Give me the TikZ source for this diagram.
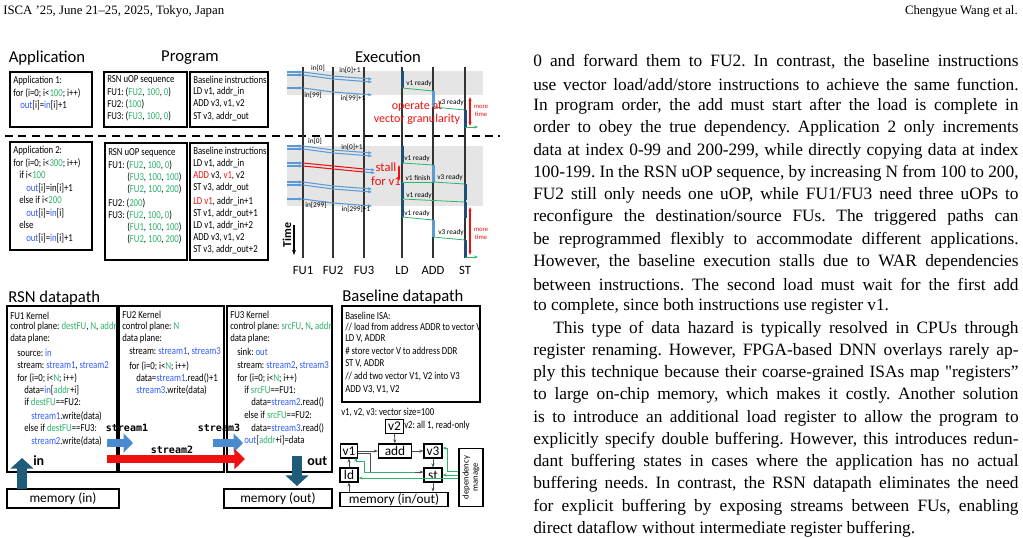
\documentclass[tikz,border=0pt]{standalone}
\usepackage{fontspec}
\setmainfont{Liberation Serif}
\newfontfamily\figfont[FakeStretch=0.82]{Carlito}
\newfontfamily\titfont{Carlito}
\newfontfamily\monob{DejaVu Sans Mono}
\usetikzlibrary{arrows.meta}
\definecolor{grn}{HTML}{2DB36A}
\definecolor{blu}{HTML}{2F5BFF}
\definecolor{rdd}{HTML}{F01010}
\definecolor{dbar}{HTML}{1F4E79}
\definecolor{lbar}{HTML}{5B9BD5}
\definecolor{inarr}{HTML}{1F5C7A}
\definecolor{strarr}{HTML}{4A8BD0}
\definecolor{lnb}{HTML}{5B9BD5}
\newcommand\gn[1]{\textcolor{grn}{#1}}
\newcommand\bl[1]{\textcolor{blu}{#1}}
\newcommand\rd[1]{\textcolor{rdd}{#1}}
\newcommand\tl[3]{\node[anchor=west,inner sep=0,font=\figfont\fontsize{8}{9}\selectfont] at (#1,#2) {#3};}
\newcommand\pl[2]{\node[anchor=west,inner sep=0,font=\fontsize{13}{15}\selectfont] at (533,#1) {\makebox[364pt][s]{#2}};}
\newcommand\pe[3]{\node[anchor=west,inner sep=0,font=\fontsize{13}{15}\selectfont] at (#1,#2) {#3};}
\frenchspacing
\begin{document}
\begin{tikzpicture}[x=0.75pt,y=-0.75pt,
  bx/.style={draw,line width=0.8pt},
  ttl/.style={font=\titfont\fontsize{12.5}{14}\selectfont,inner sep=0},
  lab/.style={font=\titfont\fontsize{9.5}{11}\selectfont,inner sep=0},
  sm/.style={font=\titfont\fontsize{5.5}{6}\selectfont,inner sep=0},
  bar/.style={fill=dbar,draw=none},
  lbarS/.style={fill=lbar,draw=none},
  ga/.style={draw=grn,line width=0.6pt},
  ba/.style={draw=lnb,line width=0.8pt,-{Stealth[length=3pt]}},
  bk/.style={draw=black!70,line width=0.7pt,-{Stealth[length=3pt]}},
  gk/.style={draw=grn,line width=0.6pt,-{Stealth[length=3pt]}},
  blk/.style={-{Triangle[length=8pt,width=17pt]}}]
\useasboundingbox (0,0) rectangle (1023,537);
% header
\node[anchor=west,inner sep=0,font=\fontsize{9.6}{11}\selectfont] (hdl) at (3,11) {ISCA '25, June 21–25, 2025, Tokyo, Japan};
\node[anchor=east,inner sep=0,font=\fontsize{9.6}{11}\selectfont] (hdr) at (1018,11) {Chengyue Wang et al.};
% right column text
\pl{62}{0 and forward them to FU2. In contrast, the baseline instructions}
\pl{84.25}{use vector load/add/store instructions to achieve the same function.}
\pl{106.5}{In program order, the add must start after the load is complete in}
\pl{128.75}{order to obey the true dependency. Application 2 only increments}
\pl{151}{data at index 0-99 and 200-299, while directly copying data at index}
\pl{173.25}{100-199. In the RSN uOP sequence, by increasing N from 100 to 200,}
\pl{195.5}{FU2 still only needs one uOP, while FU1/FU3 need three uOPs to}
\pl{217.75}{reconfigure the destination/source FUs. The triggered paths can}
\pl{240}{be reprogrammed flexibly to accommodate different applications.}
\pl{262.25}{However, the baseline execution stalls due to WAR dependencies}
\pl{284.5}{between instructions. The second load must wait for the first add}
\pe{533}{306.75}{to complete, since both instructions use register v1.}
\node[anchor=west,inner sep=0,font=\fontsize{13}{15}\selectfont] at (553,329) {\makebox[349pt][s]{This type of data hazard is typically resolved in CPUs through}};
\pl{351.25}{register renaming. However, FPGA-based DNN overlays rarely ap-}
\pl{373.5}{ply this technique because their coarse-grained ISAs map \textquotedbl registers”}
\pl{395.75}{to large on-chip memory, which makes it costly. Another solution}
\pl{418}{is to introduce an additional load register to allow the program to}
\pl{440.25}{explicitly specify double buffering. However, this introduces redun-}
\pl{462.5}{dant buffering states in cases where the application has no actual}
\pl{484.75}{buffering needs. In contrast, the RSN datapath eliminates the need}
\pl{507}{for explicit buffering by exposing streams between FUs, enabling}
\pe{533}{529.25}{direct dataflow without intermediate register buffering.}
% ---------- figure titles
\node[ttl] (tapp) at (47,58) {Application};
\node[ttl] (tprog) at (190,58) {Program};
\node[ttl] (texec) at (388,57) {Execution};
% boxes top
\draw[bx] (10,72) rectangle (92,127);
\draw[bx] (104,72) rectangle (187,127);
\draw[bx] (190,72) rectangle (268,127);
\tl{13}{81}{Application 1:}
\tl{13}{93}{for (i=0; i<\gn{100}; i++)}
\tl{20}{105}{\bl{out}[i]=\bl{in}[i]+1}
\tl{107}{80}{RSN uOP sequence}
\tl{107}{92}{FU1: (\gn{FU2}, \gn{100}, \gn{0})}
\tl{107}{104}{FU2: (\gn{100})}
\tl{107}{116}{FU3: (\gn{FU3}, \gn{100}, \gn{0})}
\tl{193}{80}{Baseline instructions}
\tl{193}{92}{LD v1, addr\_in}
\tl{193}{104}{ADD v3, v1, v2}
\tl{193}{117}{ST v3, addr\_out}
% dashed separator
\draw[line width=1.2pt,dash pattern=on 6pt off 4pt] (5,136) -- (500,136);
% boxes bottom
\draw[bx] (10,142) rectangle (92,250);
\draw[bx] (105,143) rectangle (187,260);
\draw[bx] (190,143) rectangle (268,260);
\tl{13}{151}{Application 2:}
\tl{13}{163}{for (i=0; i<\gn{300}; i++)}
\tl{19}{175}{if i<\gn{100}}
\tl{26}{188}{\bl{out}[i]=in[i]+1}
\tl{19}{200}{else if i<\gn{200}}
\tl{26}{213}{\bl{out}[i]=\bl{in}[i]}
\tl{19}{225}{else}
\tl{26}{238}{\bl{out}[i]=\bl{in}[i]+1}
\tl{108}{153}{RSN uOP sequence}
\tl{108}{165}{FU1: (\gn{FU2}, \gn{100}, \gn{0})}
\tl{127}{177}{(\gn{FU3}, \gn{100}, \gn{100})}
\tl{127}{189}{(\gn{FU2}, \gn{100}, \gn{200})}
\tl{108}{203}{FU2: (\gn{200})}
\tl{108}{215}{FU3: (\gn{FU2}, \gn{100}, \gn{0})}
\tl{127}{227}{(\gn{FU1}, \gn{100}, \gn{100})}
\tl{127}{239}{(\gn{FU2}, \gn{100}, \gn{200})}
\tl{193}{151}{Baseline instructions}
\tl{193}{164}{LD v1, addr\_in}
\tl{193}{176}{\rd{ADD} v3, \rd{v1}, v2}
\tl{193}{188}{ST v3, addr\_out}
\tl{193}{202}{\rd{LD v1}, addr\_in+1}
\tl{193}{214}{ST v1, addr\_out+1}
\tl{193}{226}{LD v1, addr\_in+2}
\tl{193}{238}{ADD v3, v1, v2}
\tl{193}{250}{ST v3, addr\_out+2}
% ---------- execution
\fill[black!10] (287,71) rectangle (483,95);
\fill[black!10] (287,146) rectangle (483,206);
\foreach \x/\n in {303/FU1,333/FU2,364/FU3,402/LD,433/ADD,465/ST}{
  \draw[line width=0.8pt,black!80] (\x,67) -- (\x,258);
  \node[lab] (l\n) at (\x,270) {\n};}
% band 1 arrows
\foreach \y in {72,75,88}{
  \draw[ba] (287,\y) -- (303,\y);
  \draw[draw=lnb,line width=0.8pt] (303,\y) -- (333,\y+4);
  \draw[ba] (333,\y+4) -- (372,\y+7);}
\node[sm] at (318,68) {in[0]};
\node[sm] at (350,70) {in[0]+1};
\node[sm] at (313,95) {in[99]};
\node[sm] at (353,98) {in[99]+1};
\fill[bar] (400.5,71) rectangle (403.5,88);
\draw[ga] (402,88) -- (433,91);
\node[sm] at (419,84) {v1 ready};
\fill[lbarS] (431.5,91) rectangle (434.5,107);
\draw[ga] (433,107) -- (465,110);
\node[sm] at (451,103) {v3 ready};
\fill[bar] (463.5,110) rectangle (466.5,127);
\draw[gk] (465,127) -- (478,127);
\draw[rdd,line width=0.8pt,{Stealth[length=3pt]}-{Stealth[length=3pt]}] (470,97) -- (470,126);
\node[sm,text=rdd,align=center,font=\titfont\fontsize{5}{6}\selectfont] at (481,111) {more\\time};
\node[inner sep=0,text=rdd,align=center,font=\titfont\fontsize{9}{9.5}\selectfont] at (417,113) {operate at\\vector granularity};
% band 2 arrows
\foreach \y in {146,149,182,185,199}{
  \draw[ba] (287,\y) -- (303,\y);
  \draw[draw=lnb,line width=0.8pt] (303,\y) -- (333,\y+4);
  \draw[ba] (333,\y+4) -- (372,\y+7);}
\foreach \y in {163,166}{
  \draw[ba] (287,\y) -- (303,\y);
  \draw[draw=rdd,line width=0.8pt] (303,\y) -- (364,\y+6);
  \draw[ba] (364,\y+6) -- (375,\y+7);}
\node[sm] at (315,141) {in[0]};
\node[sm] at (352,147) {in[0]+1};
\node[sm] at (316,205) {in[299]};
\node[sm] at (356,209) {in[299]+1};
\fill[bar] (400.5,146) rectangle (403.5,163);
\fill[bar] (400.5,182) rectangle (403.5,199);
\fill[bar] (400.5,200) rectangle (403.5,217);
\fill[lbarS] (431.5,165) rectangle (434.5,182);
\fill[lbarS] (431.5,220) rectangle (434.5,237);
\fill[bar] (463.5,184) rectangle (466.5,200);
\fill[bar] (463.5,202) rectangle (466.5,218);
\fill[bar] (463.5,240) rectangle (466.5,257);
\draw[ga] (402,163) -- (433,165);
\node[sm] at (417,159) {v1 ready};
\draw[ga] (433,182) -- (402,182);
\node[sm] at (418,178) {v1 finish};
\draw[ga] (433,182) -- (465,184);
\node[sm] at (450,178) {v3 ready};
\draw[ga] (402,199) -- (465,202);
\node[sm] at (419,196) {v1 ready};
\draw[ga] (402,217) -- (433,220);
\node[sm] at (417,214) {v1 ready};
\draw[ga] (433,237) -- (465,240);
\node[sm] at (451,233) {v3 ready};
\draw[gk] (465,257) -- (478,257);
\draw[rdd,line width=0.8pt,{Stealth[length=3pt]}-{Stealth[length=3pt]}] (470,207) -- (470,255);
\node[sm,text=rdd,align=center,font=\titfont\fontsize{5}{6}\selectfont] at (481,234) {more\\time};
\draw[rdd,line width=0.8pt,{Stealth[length=2.5pt]}-{Stealth[length=2.5pt]}] (399,165) -- (399,181);
\node[inner sep=0,text=rdd,align=center,font=\titfont\fontsize{9.5}{10}\selectfont] at (386,174) {stall\\for v1};
\node[inner sep=0,rotate=90,font=\titfont\bfseries\fontsize{9}{10}\selectfont] (time) at (287,235) {Time};
\draw[line width=1pt,-{Stealth[length=4pt]}] (294,225) -- (294,255);
% ---------- RSN datapath
\node[ttl,anchor=west] (trsn) at (8,298) {RSN datapath};
\draw[bx] (7,306) rectangle (117,472);
\draw[bx] (119,306) rectangle (224,472);
\draw[bx] (227,306) rectangle (332,472);
\draw[bx] (7,489) rectangle (119,508);
\draw[bx] (224,489) rectangle (332,508);
\node[lab,font=\titfont\fontsize{10}{11}\selectfont] (memin) at (63,499) {memory (in)};
\node[lab,font=\titfont\fontsize{10}{11}\selectfont] (memout) at (278,499) {memory (out)};
\tl{10}{316}{FU1 Kernel}
\tl{10}{327}{control plane: \gn{destFU}, \gn{N}, \gn{addr}}
\tl{10}{339}{data plane:}
\tl{17}{353}{source: \bl{in}}
\tl{17}{366}{stream: \bl{stream1}, \bl{stream2}}
\tl{17}{378}{for (i=0; i<\gn{N}; i++)}
\tl{24}{390}{data=\bl{in}[\gn{addr}+i]}
\tl{24}{402}{if \gn{destFU}==FU2:}
\tl{31}{416}{\bl{stream1}.write(data)}
\tl{24}{428}{else if \gn{destFU}==FU3:}
\tl{31}{441}{\bl{stream2}.write(data)}
\tl{122}{315}{FU2 Kernel}
\tl{122}{327}{control plane: \gn{N}}
\tl{122}{339}{data plane:}
\tl{129}{352}{stream: \bl{stream1}, \bl{stream3}}
\tl{129}{366}{for (i=0; i<\gn{N}; i++)}
\tl{136}{378}{data=\bl{stream1}.read()+1}
\tl{136}{390}{\bl{stream3}.write(data)}
\tl{230}{315}{FU3 Kernel}
\tl{230}{327}{control plane: \gn{srcFU}, \gn{N}, \gn{addr}}
\tl{230}{339}{data plane:}
\tl{237}{352}{sink: \bl{out}}
\tl{237}{366}{stream: \bl{stream2}, \bl{stream3}}
\tl{237}{378}{for (i=0; i<\gn{N}; i++)}
\tl{244}{390}{if \gn{srcFU}==FU1:}
\tl{251}{402}{data=\bl{stream2}.read()}
\tl{244}{415}{else if \gn{srcFU}==FU2:}
\tl{251}{428}{data=\bl{stream3}.read()}
\tl{244}{440}{\bl{out}[\gn{addr}+i]=data}
% block arrows
\coordinate (ain0) at (22,489); \coordinate (ain1) at (22,458);
\coordinate (aout0) at (297,456); \coordinate (aout1) at (297,486);
\coordinate (s10) at (107,443); \coordinate (s11) at (133,443);
\coordinate (s30) at (213,443); \coordinate (s31) at (243,443);
\coordinate (s20) at (107,459); \coordinate (s21) at (245,459);
\draw[blk,line width=8pt,inarr] (ain0) -- (ain1);
\draw[blk,line width=8pt,inarr] (aout0) -- (aout1);
\draw[-{Triangle[length=7pt,width=14pt]},line width=6.5pt,strarr] (s10) -- (s11);
\draw[-{Triangle[length=7pt,width=14pt]},line width=6.5pt,strarr] (s30) -- (s31);
\draw[-{Triangle[length=8pt,width=15pt]},line width=6.5pt,rdd] (s20) -- (s21);
\node[anchor=west,inner sep=0,font=\titfont\bfseries\fontsize{10.5}{11}\selectfont] (tin) at (33,461) {in};
\node[anchor=west,inner sep=0,font=\titfont\bfseries\fontsize{10.5}{11}\selectfont] (tout) at (307,461) {out};
\node[inner sep=0,font=\monob\bfseries\fontsize{7.5}{9}\selectfont] (ts1) at (127,428) {stream1};
\node[inner sep=0,font=\monob\bfseries\fontsize{7.5}{9}\selectfont] (ts3) at (219,428) {stream3};
\node[inner sep=0,font=\monob\bfseries\fontsize{7.5}{9}\selectfont] (ts2) at (172,450) {stream2};
% ---------- Baseline datapath
\node[ttl,anchor=west] (tbase) at (342,297) {Baseline datapath};
\draw[bx] (342,306) rectangle (480,402);
\tl{345}{316}{Baseline ISA:}
\tl{345}{327}{// load from address ADDR to vector V}
\tl{345}{339}{LD V, ADDR}
\tl{345}{351}{\# store vector V to address DDR}
\tl{345}{364}{ST V, ADDR}
\tl{345}{376}{// add two vector V1, V2 into V3}
\tl{345}{390}{ADD V3, V1, V2}
\tl{341}{412}{v1, v2, v3: vector size=100}
\tikzset{rb/.style={draw,line width=0.8pt,inner sep=0,font=\titfont\fontsize{10}{11}\selectfont}}
\node[rb,minimum width=13pt,minimum height=10pt] (v2) at (394.5,426.5) {v2};
\tl{404}{426}{v2: all 1, read-only}
\node[rb,minimum width=13pt,minimum height=10.5pt] (v1) at (349,451) {v1};
\node[rb,minimum width=25pt,minimum height=10.5pt] (add) at (395,451) {add};
\node[rb,minimum width=13.5pt,minimum height=10.5pt] (v3) at (433,451) {v3};
\node[rb,minimum width=13.5pt,minimum height=10.5pt] (ld) at (349,475) {ld};
\node[rb,minimum width=13.5pt,minimum height=10.5pt] (st) at (433,475) {st};
\node[rb,minimum width=81pt,minimum height=11pt] (mem) at (394,499.5) {memory (in/out)};
\node[draw,line width=0.8pt,minimum width=18pt,minimum height=44pt,inner sep=0] (dep) at (471,477.5) {};
\node[rotate=90,inner sep=0,align=center,font=\titfont\fontsize{6.5}{7}\selectfont] at (dep.center) {dependency\\manage};
\draw[bk] (v2) -- (add);
\draw[bk] (v1) -- (add);
\draw[bk] (add) -- (v3);
\draw[bk] (v3) -- (st);
\draw[bk] (v1.east) ++(0,2) -- (370,453) -- (370,472) -- (st.west |- 0,472);
\draw[bk] (ld) -- (v1);
\draw[bk] (mem.north -| ld) -- (ld);
\draw[bk] (st) -- (mem.north -| st);
\draw[gk] (dep.west |- 0,471) -- (447,471) -- (447,448) -- (v3.east |- 0,448);
\draw[gk] (dep.west |- 0,475) -- (st.east |- 0,475);
\draw[gk] (dep.west |- 0,478) -- (ld.east |- 0,478);
\draw[gk] (415,472) -- (364,472) -- (364,461) -- (356,461) -- (356,457.5);
\end{tikzpicture}
\end{document}
